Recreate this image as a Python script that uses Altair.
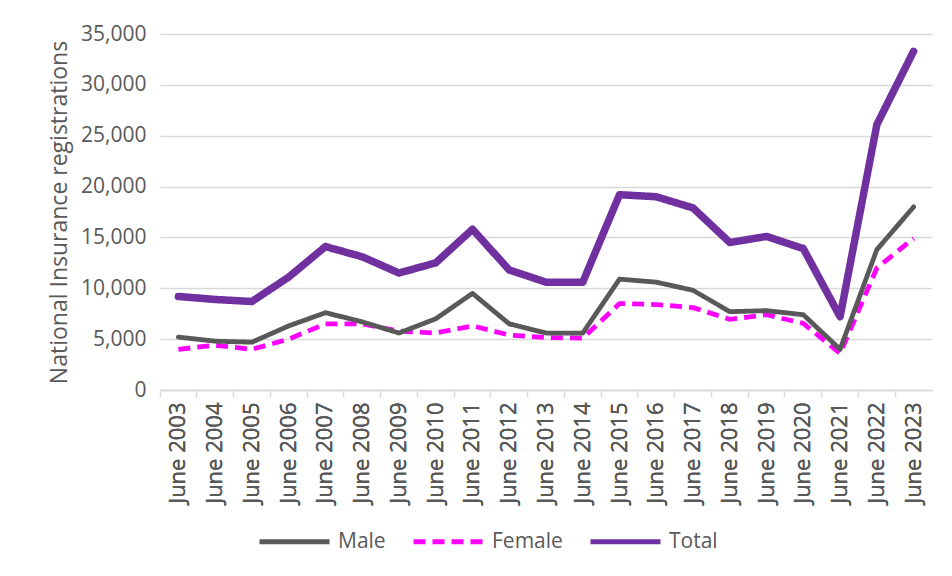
import altair as alt
import pandas as pd

periods = ["June 2003", "June 2004", "June 2005", "June 2006", "June 2007", "June 2008",
           "June 2009", "June 2010", "June 2011", "June 2012", "June 2013", "June 2014",
           "June 2015", "June 2016", "June 2017", "June 2018", "June 2019", "June 2020",
           "June 2021", "June 2022", "June 2023"]
male = [5200, 4800, 4700, 6300, 7600, 6700, 5600, 7000, 9500, 6500, 5600, 5600,
        10900, 10600, 9800, 7700, 7800, 7400, 4000, 13800, 18000]
female = [4000, 4400, 4000, 5000, 6500, 6500, 5800, 5600, 6300, 5400, 5150, 5100,
          8500, 8400, 8100, 6950, 7400, 6550, 3600, 12000, 14900]
total = [9200, 8900, 8700, 11100, 14100, 13100, 11500, 12500, 15800, 11800, 10600, 10600,
         19200, 19000, 17900, 14500, 15100, 13900, 7200, 26100, 33300]
series = ["Male", "Female", "Total"]
widths = {"Male": 4.8, "Female": 4.8, "Total": 7.5}
caps = {"Male": "round", "Female": "butt", "Total": "round"}

rows = []
for name, vals in zip(series, [male, female, total]):
    for p, v in zip(periods, vals):
        rows.append({"period": p, "series": name, "value": v})
df = pd.DataFrame(rows)

FONT = "Open Sans"
GREY = "#595959"

xscale = alt.Scale(type="band", paddingInner=0, paddingOuter=0)
yscale = alt.Scale(domain=[0, 35000])
yaxis = alt.Axis(title="National Insurance registrations", values=list(range(0, 35001, 5000)),
                 labelExpr="format(datum.value, ',')", grid=True, gridColor="#D9D9D9",
                 gridWidth=1.5, domain=False, ticks=False, labelFont=FONT, labelFontSize=21,
                 labelColor=GREY, labelPadding=14, titleFont=FONT, titleFontSize=23,
                 titleColor=GREY, titleFontWeight="normal", titlePadding=9)
xaxis = alt.Axis(title=None, orient="bottom", labelAngle=-90, ticks=False, domain=False,
                 labelFont=FONT, labelFontSize=22, labelColor=GREY, labelPadding=12, grid=False)

color = alt.Color("series:N", sort=series,
                  scale=alt.Scale(domain=series, range=["#595959", "#FF00FF", "#7030A0"]),
                  legend=alt.Legend(title=None))
dash = alt.StrokeDash("series:N", sort=series,
                      scale=alt.Scale(domain=series, range=[[1, 0], [12, 7], [1, 0]]),
                      legend=alt.Legend(title=None))

layers = []
for s in ["Female", "Male", "Total"]:
    layers.append(
        alt.Chart(df).transform_filter(alt.datum.series == s)
        .mark_line(strokeJoin="round", strokeCap=caps[s], strokeWidth=widths[s])
        .encode(
            x=alt.X("period:N", sort=periods, scale=xscale, bandPosition=0.5, axis=xaxis),
            y=alt.Y("value:Q", scale=yscale, axis=yaxis),
            color=color,
            strokeDash=dash,
        )
    )

ticks = alt.Chart(df).mark_line(opacity=0).encode(
    x=alt.X("period:N", sort=periods, scale=xscale,
            axis=alt.Axis(title=None, orient="bottom", labels=False, ticks=True, tickSize=7,
                          tickColor="#D9D9D9", tickWidth=1.5, domain=True, domainColor="#D9D9D9",
                          domainWidth=1.5, bandPosition=0, grid=False)),
    y=alt.Y("value:Q", scale=yscale, axis=yaxis),
)

chart = alt.layer(*layers, ticks).resolve_axis(x="independent").properties(
    width=772, height=356,
    padding={"left": 40, "top": 15, "right": 8, "bottom": 8},
).configure_view(stroke=None).configure_legend(
    orient="none", legendX=97, legendY=470, direction="horizontal",
    symbolType="stroke", symbolSize=4900, labelFont=FONT, labelFontSize=21,
    labelColor=GREY, columnPadding=17, symbolStrokeWidth=5, labelOffset=6,
)

chart.save("out.html", embed_options={"renderer": "svg", "actions": False})
